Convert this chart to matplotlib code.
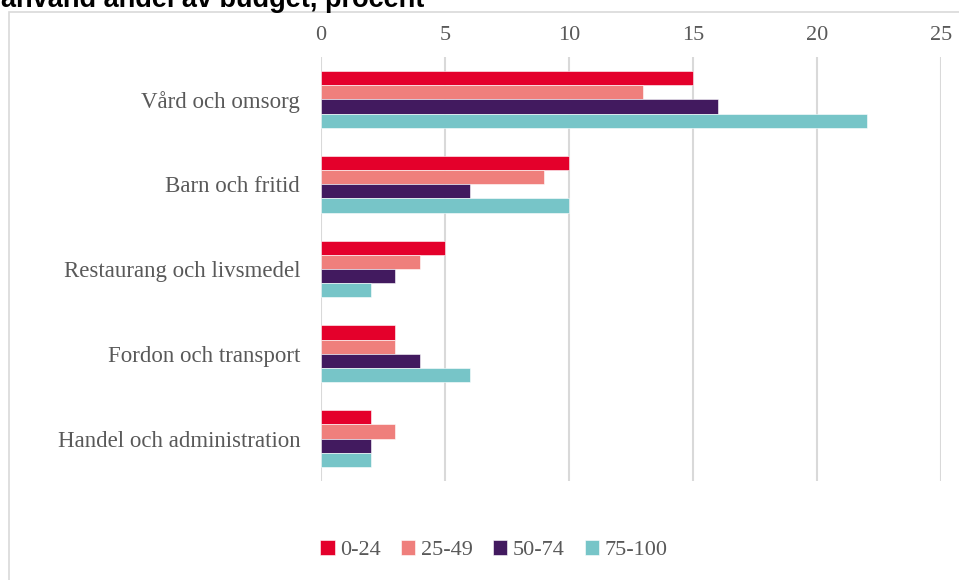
import matplotlib.pyplot as plt
import numpy as np
from matplotlib.patches import Rectangle

categories = ["Vård och omsorg", "Barn och fritid", "Restaurang och livsmedel",
              "Fordon och transport", "Handel och administration"]
series = ["0-24", "25-49", "50-74", "75-100"]
values = [
    [15, 10, 5, 3, 2],   # 0-24
    [13, 9, 4, 3, 3],    # 25-49
    [16, 6, 3, 4, 2],    # 50-74
    [22, 10, 2, 6, 2],   # 75-100
]
colors = ["#E4002B", "#EF7F7C", "#421A5F", "#77C5C8"]
title = "använd andel av budget, procent"

W, H = 959, 580
fig = plt.figure(figsize=(W / 100, H / 100), dpi=100)
ax = fig.add_axes([321 / W, 1 - 481 / H, 620 / W, 424 / H])

txt = "#595959"
serif = ["Liberation Serif", "DejaVu Serif"]

y = np.arange(len(categories))
h = 0.168
for i, (s, vals, c) in enumerate(zip(series, values, colors)):
    offs = (i - 1.5) * h
    ax.barh(y + offs, vals, height=h, color=c, label=s, edgecolor="white",
            linewidth=0.4, zorder=3)

ax.set_xlim(0, 25)
ax.set_ylim(4.5, -0.5)
ax.set_yticks(y)
ax.set_yticklabels(categories, fontfamily=serif, fontsize=16.5, color=txt)
ax.set_xticks(np.arange(0, 26, 5))
ax.xaxis.tick_top()
ax.tick_params(axis="x", length=0, pad=9, labelsize=16, labelcolor=txt)
ax.tick_params(axis="y", length=0, pad=15)
for lab in ax.get_xticklabels():
    lab.set_fontfamily(serif)
ax.grid(axis="x", color="#D9D9D9", linewidth=1.5, zorder=0)
for sp in ax.spines.values():
    sp.set_visible(False)

# outer chart border
fig.patches.append(Rectangle((9 / W, -0.05), 1.1, 1 - 12 / H + 0.05,
                             transform=fig.transFigure, fill=False,
                             edgecolor="#D9D9D9", linewidth=1.2))

fig.text(1 / W, 1 - 7 / H, title, fontfamily=["Liberation Sans", "DejaVu Sans"],
         fontweight="bold", fontsize=19.5, va="baseline", ha="left")

fig.legend(loc="center", bbox_to_anchor=(494 / W, 1 - 550 / H), ncol=4,
           frameon=False, prop={"family": serif, "size": 16},
           labelcolor=txt, handlelength=0.65, handleheight=0.65,
           handletextpad=0.25, columnspacing=0.9)

fig.savefig("out.png", dpi=100)
